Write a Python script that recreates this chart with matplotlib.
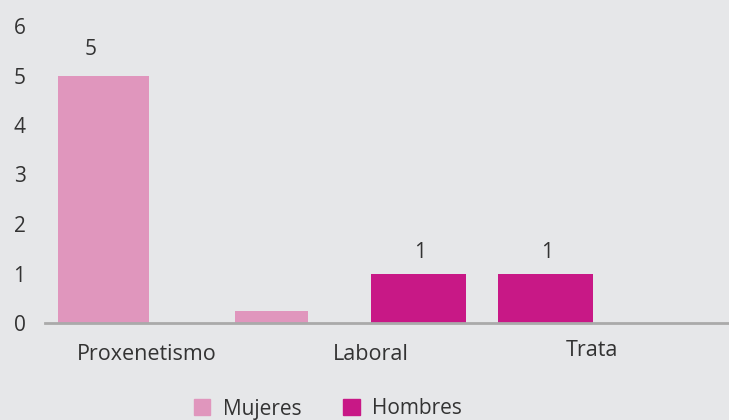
import matplotlib.pyplot as plt
from matplotlib.patches import Patch

# datos
categorias = ['Proxenetismo', 'Laboral', 'Trata']
mujeres = [5, 0.25, 0]
hombres = [0, 1, 1]
yticks = [0, 1, 2, 3, 4, 5, 6]

# posiciones (en pixeles dentro del eje) - el grafico original no esta alineado
x_mujeres = [58.5, 226.5, 500.5]
w_mujeres = [91, 73, 95]
x_hombres = [150, 373.5, 500.5]
w_hombres = [91, 95, 95]
x_cats = [102, 326, 547]
x_etiqueta_5 = 46

c_muj = '#e096bd'
c_hom = '#c81886'
bg = '#e6e7e9'
txt = '#333333'

plt.rcParams['font.family'] = ['Open Sans', 'DejaVu Sans']

fig = plt.figure(figsize=(7.29, 4.2), dpi=100, facecolor=bg)
ax = fig.add_axes([45 / 729, 97 / 420, 684 / 729, 297 / 420])
ax.set_facecolor(bg)

for i in range(len(categorias)):
    if mujeres[i] > 0:
        ax.bar(x_mujeres[i], mujeres[i], width=w_mujeres[i], color=c_muj)
    if hombres[i] > 0:
        ax.bar(x_hombres[i], hombres[i], width=w_hombres[i], color=c_hom)

# etiquetas de valor
ax.text(x_etiqueta_5, mujeres[0] + 0.32, str(mujeres[0]),
        ha='center', va='bottom', fontsize=15, color=txt)
for i in [1, 2]:
    ax.text(x_hombres[i] + 2, hombres[i] + 0.22, str(hombres[i]),
            ha='center', va='bottom', fontsize=15, color=txt)

ax.set_xlim(0, 684)
ax.set_ylim(0, 6)
ax.set_yticks(yticks)
ax.set_yticklabels([str(t) for t in yticks], fontsize=15, color=txt)
ax.set_xticks(x_cats)
ax.set_xticklabels(categorias, fontsize=15.5, color=txt)
ax.tick_params(axis='y', length=0, pad=14)
ax.tick_params(axis='x', length=0, pad=15)
# "Trata" aparece un poco mas arriba en el original
ax.get_xticklabels()[2].set_y(0.012)

for s in ['top', 'right', 'left']:
    ax.spines[s].set_visible(False)
ax.spines['bottom'].set_color('#aaaaaa')
ax.spines['bottom'].set_linewidth(2)

handles = [Patch(color=c_muj, label='Mujeres'), Patch(color=c_hom, label='Hombres')]
fig.legend(handles=handles, loc='center', bbox_to_anchor=(328 / 729, 11 / 420),
           ncol=2, frameon=False, fontsize=15, handlelength=0.8, handleheight=0.8,
           columnspacing=2.0, handletextpad=0.6, labelcolor=txt)

fig.savefig('out.png', dpi=100, facecolor=bg)
